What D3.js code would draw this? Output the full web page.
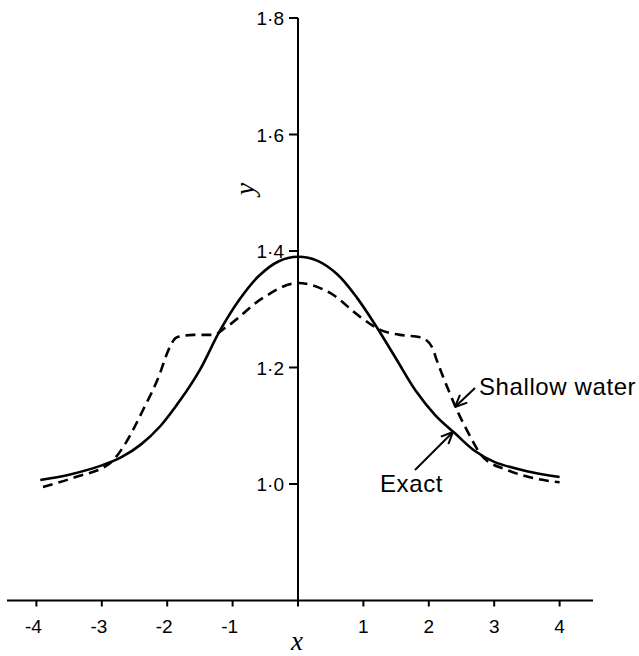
<!DOCTYPE html>
<html><head><meta charset="utf-8">
<script src="https://cdn.jsdelivr.net/npm/d3@7"></script>
<style>body{margin:0;background:#fff}svg{display:block}</style>
</head><body>
<script>
const xTicks = [-4,-3,-2,-1,1,2,3,4];
const yTicks = [1.0,1.2,1.4,1.6,1.8];
const exactX = [-3.94,-3.5,-3.0,-2.7,-2.4,-2.1,-1.8,-1.5,-1.2,-0.9,-0.6,-0.3,0,0.3,0.6,0.9,1.2,1.5,1.8,2.1,2.4,2.7,3.0,3.5,4.0];
const exactY = [1.007,1.016,1.032,1.046,1.068,1.1,1.144,1.196,1.262,1.316,1.357,1.382,1.39,1.383,1.36,1.32,1.27,1.215,1.16,1.118,1.087,1.057,1.038,1.022,1.012];
const shallowX = [-3.9,-3.4,-2.87,-2.67,-2.37,-2.11,-2.0,-1.85,-1.6,-1.3,-1.09,-0.53,0,0.49,0.95,1.25,1.56,1.87,2.05,2.12,2.32,2.43,2.58,2.83,3.2,3.6,4.0];
const shallowY = [0.995,1.012,1.036,1.064,1.127,1.19,1.225,1.252,1.256,1.256,1.27,1.32,1.345,1.328,1.287,1.265,1.256,1.252,1.235,1.213,1.156,1.127,1.093,1.046,1.024,1.010,1.003];

const W=639,H=656;
const svg=d3.select("body").append("svg").attr("width",W).attr("height",H);
const x=d3.scaleLinear().domain([-4,4]).range([36.4,559.6]);
const y=d3.scaleLinear().domain([0.8,1.8]).range([600.5,18]);
const font="'Liberation Sans', Arial, sans-serif";

svg.append("line").attr("x1",7).attr("x2",593).attr("y1",y(0.8)).attr("y2",y(0.8))
  .attr("stroke","#000").attr("stroke-width",2);
svg.append("line").attr("x1",x(0)).attr("x2",x(0)).attr("y1",y(1.8)).attr("y2",y(0.8)+6)
  .attr("stroke","#000").attr("stroke-width",2);

const fmt=v=>(v<0?"-":"")+Math.abs(v).toFixed(0);
const xg=svg.append("g");
xTicks.forEach(t=>{
  xg.append("line").attr("x1",x(t)).attr("x2",x(t)).attr("y1",y(0.8)).attr("y2",y(0.8)+6)
    .attr("stroke","#000").attr("stroke-width",2);
  xg.append("text").attr("x",t<0?x(t)+5.5:x(t)).attr("y",633)
    .attr("text-anchor",t<0?"end":"middle").attr("font-family",font).attr("font-size",19)
    .text(fmt(t));
});
const yg=svg.append("g");
yTicks.forEach(t=>{
  yg.append("line").attr("x1",x(0)-9).attr("x2",x(0)).attr("y1",y(t)).attr("y2",y(t))
    .attr("stroke","#000").attr("stroke-width",2);
  yg.append("text").attr("x",x(0)-14).attr("y",y(t)+7).attr("text-anchor","end")
    .attr("font-family",font).attr("font-size",19).text(t.toFixed(1).replace(".","\u00b7"));
});

svg.append("text").attr("x",297).attr("y",650).attr("text-anchor","middle")
  .attr("font-family","'Liberation Serif', serif").attr("font-style","italic").attr("font-size",27).text("x");
svg.append("text").attr("transform","translate(254,189) rotate(-90)").attr("text-anchor","middle")
  .attr("font-family","'Liberation Serif', serif").attr("font-style","italic").attr("font-size",28).text("y");

const lineS=d3.line().x(d=>x(d[0])).y(d=>y(d[1])).curve(d3.curveCatmullRom.alpha(0.5));
const lineD=d3.line().x(d=>x(d[0])).y(d=>y(d[1])).curve(d3.curveMonotoneX);
svg.append("path").datum(exactX.map((v,i)=>[v,exactY[i]])).attr("d",lineS)
  .attr("fill","none").attr("stroke","#000").attr("stroke-width",2.6);
svg.append("path").datum(shallowX.map((v,i)=>[v,shallowY[i]])).attr("d",lineD)
  .attr("fill","none").attr("stroke","#000").attr("stroke-width",2.6).attr("stroke-dasharray","10,6");

function arrow(x1,y1,x2,y2){
  svg.append("line").attr("x1",x1).attr("y1",y1).attr("x2",x2).attr("y2",y2).attr("stroke","#000").attr("stroke-width",2);
  const a=Math.atan2(y2-y1,x2-x1),L=13,s=0.42;
  [a+Math.PI-s,a+Math.PI+s].forEach(b=>{
    svg.append("line").attr("x1",x2).attr("y1",y2).attr("x2",x2+L*Math.cos(b)).attr("y2",y2+L*Math.sin(b))
      .attr("stroke","#000").attr("stroke-width",2);
  });
}
arrow(475,388,455,407);
arrow(415,470,453,432);
svg.append("text").attr("x",479).attr("y",395).attr("font-family",font).attr("font-size",24)
  .attr("letter-spacing",0.6).text("Shallow water");
svg.append("text").attr("x",380).attr("y",492).attr("font-family",font).attr("font-size",24)
  .attr("letter-spacing",0.6).text("Exact");
</script>
</body></html>
